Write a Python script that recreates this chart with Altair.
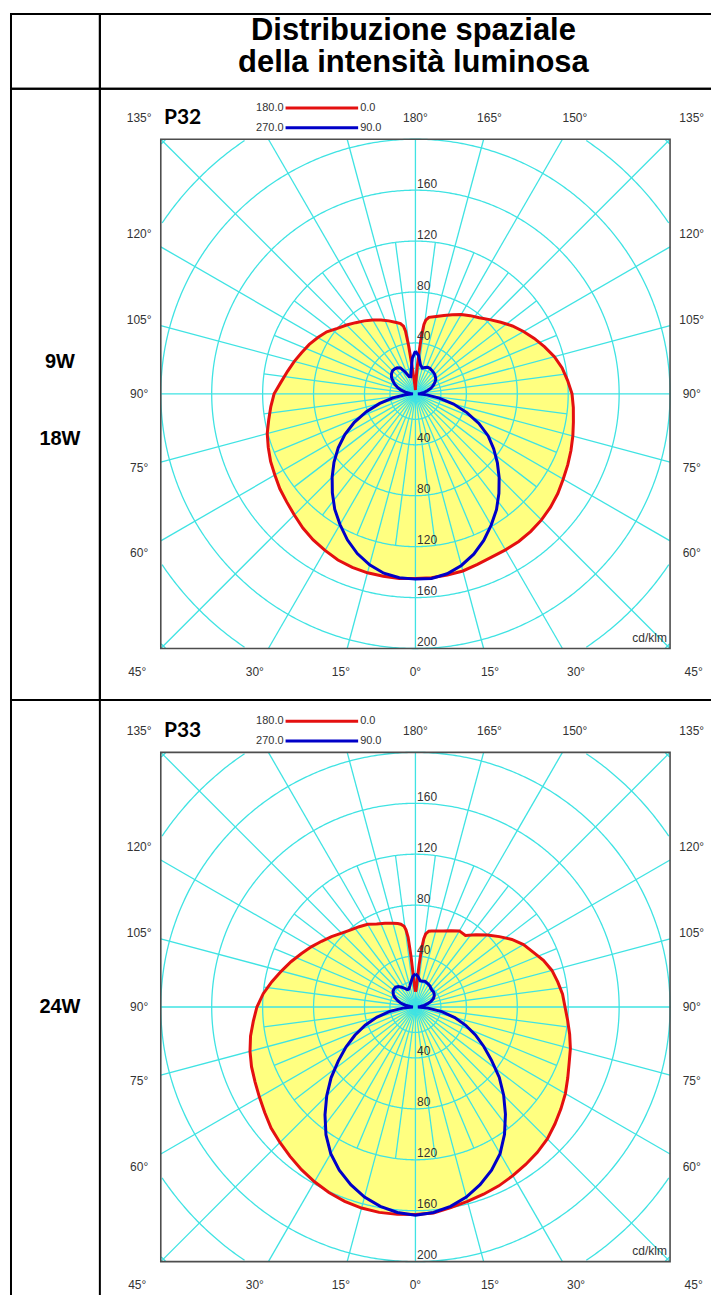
import altair as alt
import numpy as np
import pandas as pd

# ---------------- text content ----------------
TITLE_LINES = ["Distribuzione spaziale", "della intensità luminosa"]
ROW1_LABELS = ["9W", "18W"]
ROW2_LABELS = ["24W"]
PANEL_NAMES = ["P32", "P33"]
UNIT_LABEL = "cd/klm"
LEGEND_RED = ["180.0", "0.0"]
LEGEND_BLUE = ["270.0", "90.0"]

# ---------------- photometric data (cd/klm), gamma in degrees ----------------
P32_C0_ANG = [0, 5, 10, 15, 20, 25, 30, 35, 40, 45, 50, 55, 60, 65, 70, 75, 80, 85, 90, 95, 100, 105, 110,
              115, 120, 125, 130, 135, 140, 145, 150, 155, 160, 165, 170, 172, 173, 174, 175, 176, 177, 178, 179, 180]
P32_C0_VAL = [145, 145, 144.5, 144, 142.5, 141.5, 141.5, 141.5, 141, 140, 138.5, 136.5, 134, 132, 130, 128, 126,
              124.5, 123, 120, 117, 113, 108, 103, 98, 93, 87.5, 82.5, 78, 75, 72, 68.5, 65.5, 63, 61, 58.5, 55,
              46, 33, 22, 14, 9, 6, 3]
P32_C180_ANG = [0, 5, 10, 15, 20, 25, 30, 35, 40, 45, 50, 55, 60, 65, 70, 75, 80, 85, 90, 95, 100, 105, 110,
                115, 120, 125, 130, 135, 140, 145, 150, 155, 160, 165, 168, 170, 171, 172, 173, 174, 175, 176, 178, 180]
P32_C180_VAL = [145, 145.5, 145.5, 145.5, 145, 144, 142, 140, 137.5, 134.5, 132, 130, 127.5, 125.5, 123, 120.5,
                117, 114, 111, 106, 102, 98.5, 95, 92, 88.5, 85, 80, 76.5, 73, 70, 67, 64, 61, 58, 56.5, 54, 50,
                38, 22, 14, 10, 8, 5, 3]
P32_C90_ANG = [0, 5, 10, 15, 20, 25, 30, 35, 40, 45, 50, 55, 60, 65, 70, 75, 80, 85, 90, 95, 100, 105, 110,
               115, 120, 125, 130, 135, 140, 145, 150, 155, 160, 165, 170, 175, 180]
P32_C90_VAL = [145.5, 145.5, 143.5, 139.5, 134, 127, 119, 111, 102, 93, 84, 75, 66, 55, 43, 31, 19, 9, 2, 4, 7,
               10, 13, 15.5, 17.5, 19.5, 20.5, 21.5, 22, 22.5, 23, 23, 22, 21, 23, 30, 33.5]
P32_C270_ANG = P32_C90_ANG
P32_C270_VAL = [145.5, 145, 143, 139, 133.5, 126.5, 118.5, 110.5, 101.5, 92.5, 83.5, 74, 64, 53, 41, 29, 18, 8, 2,
                4, 8, 12, 15, 18, 20.5, 23, 24.5, 25.5, 25.5, 25, 23.5, 19, 14.5, 14, 19, 28, 33.5]

P33_C0_ANG = [0, 5, 10, 15, 20, 25, 30, 35, 40, 45, 50, 55, 60, 65, 70, 75, 80, 85, 90, 95, 100, 105, 110,
              115, 120, 125, 130, 135, 140, 145, 150, 155, 160, 165, 168, 170, 172, 173, 174, 175, 176, 177, 178, 180]
P33_C0_VAL = [163, 162.5, 160, 158, 156.5, 155, 153, 151, 149, 146.5, 143, 139.5, 136, 132, 128.5, 126, 123, 120,
              117.5, 116, 113.5, 111, 107, 102, 98, 92.5, 86, 80, 74, 68.5, 69, 66, 63.5, 61.7, 61, 60.5, 58, 54,
              46, 33, 22, 16, 13, 12]
P33_C180_ANG = P33_C0_ANG
P33_C180_VAL = [163, 163.5, 163.8, 163.5, 162.5, 160.8, 158.5, 156, 153.2, 150.5, 148, 144.5, 141.5, 139, 137,
                134.5, 131.5, 127.8, 124.5, 120, 114.5, 109, 104, 99, 94.5, 90, 86, 82, 79, 77, 75, 72, 70, 68,
                67, 66, 64, 61, 55, 40, 26, 19, 15, 12]
P33_C90_ANG = P32_C90_ANG
P33_C90_VAL = [163.5, 162, 159, 154.5, 148.5, 141.5, 133, 122, 110, 98, 86, 73, 62, 52, 42, 32, 21, 10, 2, 4, 7,
               10, 13, 15.5, 17, 18, 18.5, 18.5, 19, 20, 20.5, 21, 21.5, 21, 21, 24, 26]
P33_C270_ANG = P32_C90_ANG
P33_C270_VAL = [163.5, 162, 159, 154.5, 148.5, 141.5, 133, 122.5, 110.5, 98.5, 86.5, 74, 63, 52.5, 42, 31.5, 21,
                10, 2, 4, 8, 12, 15, 18, 20, 21.5, 22, 22, 21, 19, 17, 15, 15, 17, 20, 24, 26]

# ---------------- grid definition ----------------
FRAME = 200
RINGS = [20, 40, 80, 120, 160, 200, 240, 280]
RING_LABELS_TOP = [40, 80, 120, 160]
RING_LABELS_BOTTOM = [40, 80, 120, 160, 200]
SPOKES_MAJOR = list(range(0, 360, 15))
SPOKES_MINOR = [7.5 + 15 * k for k in range(24)]
MINOR_LEN = 120
SIDE_LABEL_ANGLES = [60, 75, 90, 105, 120]
BOTTOM_LABEL_ANGLES = [0, 15, 30, 45]
TOP_RIGHT_LABEL_ANGLES = [180, 165, 150, 135]
TOP_LEFT_LABEL_ANGLES = [135]

# ---------------- styles ----------------
K = 255 / 200.0  # px per cd
CYAN = "#3fe3e3"
YELLOW = "#ffff80"
RED = "#e41010"
BLUE = "#0000c8"
FRAME_COL = "#4d4d4d"
TXT = "#333333"
FONT = "Liberation Sans"

LEFT_W = 89
RIGHT_W = 612
HEAD_H = 75
ROW1_H = 612
ROW2_H = 596
NOSTROKE = alt.ViewBackground(stroke="transparent")


def curve_df(l_ang, l_val, r_ang, r_val):
    rows = []
    for a, v in sorted(zip(l_ang, l_val), reverse=True):
        t = np.radians(a)
        rows.append((-v * np.sin(t), -v * np.cos(t)))
    for a, v in sorted(zip(r_ang, r_val)):
        t = np.radians(a)
        rows.append((v * np.sin(t), -v * np.cos(t)))
    df = pd.DataFrame(rows, columns=["x", "y"])
    df["i"] = np.arange(len(df))
    return df


def rings_df():
    rows = []
    seg = 0
    for R in RINGS:
        t = np.radians(np.arange(0, 360.001, 0.5))
        xs = R * np.sin(t)
        ys = R * np.cos(t)
        prev = False
        for k, (x, y) in enumerate(zip(xs, ys)):
            inside = abs(x) <= FRAME + 0.01 and abs(y) <= FRAME + 0.01
            if inside:
                if not prev:
                    seg += 1
                rows.append((x, y, seg, k))
            prev = inside
    return pd.DataFrame(rows, columns=["x", "y", "seg", "i"])


def spokes_df():
    rows = []
    for a in SPOKES_MAJOR:
        t = np.radians(a)
        L = FRAME / max(abs(np.sin(t)), abs(np.cos(t)))
        rows.append((0.0, 0.0, L * np.sin(t), L * np.cos(t)))
    for a in SPOKES_MINOR:
        t = np.radians(a)
        rows.append((0.0, 0.0, MINOR_LEN * np.sin(t), MINOR_LEN * np.cos(t)))
    return pd.DataFrame(rows, columns=["x", "y", "x2", "y2"])


def angle_labels_df():
    D = 217.0
    rows = []
    for a in SIDE_LABEL_ANGLES:
        y = -D / np.tan(np.radians(a))
        rows.append((D, y, f"{a}°"))
        rows.append((-D, y, f"{a}°"))
    for a in BOTTOM_LABEL_ANGLES:
        x = 218.5 * np.tan(np.radians(a))
        rows.append((x, -218.5, f"{a}°"))
        if a:
            rows.append((-x, -218.5, f"{a}°"))
    for a in TOP_RIGHT_LABEL_ANGLES:
        x = D * np.tan(np.radians(180 - a))
        rows.append((x, D, f"{a}°"))
    for a in TOP_LEFT_LABEL_ANGLES:
        x = D * np.tan(np.radians(180 - a))
        rows.append((-x, D, f"{a}°"))
    return pd.DataFrame(rows, columns=["x", "y", "t"])


def ring_labels_df():
    rows = [(1.3, r + 5.1, str(r)) for r in RING_LABELS_TOP]
    rows += [(1.3, -r + 5.1, str(r)) for r in RING_LABELS_BOTTOM]
    return pd.DataFrame(rows, columns=["x", "y", "t"])


def vrule(x, h):
    return alt.Chart(pd.DataFrame({"b": [0]})).mark_rule(color="black", strokeWidth=2).encode(
        x=alt.value(x), y=alt.value(0), y2=alt.value(h))


def hrule(y, w):
    return alt.Chart(pd.DataFrame({"b": [0]})).mark_rule(color="black", strokeWidth=2).encode(
        y=alt.value(y), x=alt.value(0), x2=alt.value(w))


def polar_panel(name, red_l, red_r, blue_l, blue_r, w, h, cx, cy, top_bottom=True):
    xs = alt.Scale(domain=[-cx / K, (w - cx) / K], nice=False, zero=False)
    ys = alt.Scale(domain=[-(h - cy) / K, cy / K], nice=False, zero=False)

    def base(df):
        return alt.Chart(df).encode(
            x=alt.X("x:Q", scale=xs, axis=None),
            y=alt.Y("y:Q", scale=ys, axis=None),
        )

    red = curve_df(*red_l, *red_r)
    blue = curve_df(*blue_l, *blue_r)

    fill = base(red).mark_line(fill=YELLOW, strokeWidth=0).encode(order="i:Q")
    rings = base(rings_df()).mark_line(color=CYAN, strokeWidth=1.3).encode(
        detail="seg:N", order="i:Q")
    spokes = base(spokes_df()).mark_rule(color=CYAN, strokeWidth=1.3).encode(
        x2="x2:Q", y2="y2:Q")
    frame = base(pd.DataFrame({"x": [-FRAME], "y": [-FRAME], "x2": [FRAME], "y2": [FRAME]})).mark_rect(
        fillOpacity=0, stroke=FRAME_COL, strokeWidth=1.6).encode(x2="x2:Q", y2="y2:Q")
    red_line = base(red).mark_line(color=RED, strokeWidth=3).encode(order="i:Q")
    blue_line = base(blue).mark_line(color=BLUE, strokeWidth=3).encode(order="i:Q")

    ang_txt = base(angle_labels_df()).mark_text(font=FONT, fontSize=12, color=TXT,
                                                baseline="middle").encode(text="t:N")
    ring_txt = base(ring_labels_df()).mark_text(font=FONT, fontSize=12, color=TXT, align="left",
                                                baseline="middle").encode(text="t:N")
    unit_txt = base(pd.DataFrame({"x": [197.5], "y": [-191.8], "t": [UNIT_LABEL]})).mark_text(
        font=FONT, fontSize=12, color=TXT, align="right", baseline="middle").encode(text="t:N")
    name_txt = base(pd.DataFrame({"x": [-197.5], "y": [216.5], "t": [name]})).mark_text(
        font="Lato", fontWeight="bold", fontSize=21, color="black", align="left",
        baseline="middle").encode(text="t:N")

    leg = pd.DataFrame({
        "x": [-102.0, -102.0], "x2": [-45.0, -45.0], "y": [224.5, 209.0],
        "c": [RED, BLUE], "l": [LEGEND_RED[0], LEGEND_BLUE[0]], "r": [LEGEND_RED[1], LEGEND_BLUE[1]],
    })
    leg_lines = base(leg).mark_rule(strokeWidth=3).encode(x2="x2:Q", color=alt.Color("c:N", scale=None))
    leg_l = alt.Chart(leg).mark_text(font=FONT, fontSize=11, color=TXT, align="right", baseline="middle",
                                     dx=-2).encode(x=alt.X("x:Q", scale=xs, axis=None),
                                                   y=alt.Y("y:Q", scale=ys, axis=None), text="l:N")
    leg_r = alt.Chart(leg).mark_text(font=FONT, fontSize=11, color=TXT, align="left", baseline="middle",
                                     dx=2).encode(x=alt.X("x2:Q", scale=xs, axis=None),
                                                  y=alt.Y("y:Q", scale=ys, axis=None), text="r:N")

    layers = [fill, rings, spokes, frame, red_line, blue_line, ang_txt, ring_txt, unit_txt, name_txt,
              leg_lines, leg_l, leg_r, vrule(0, h)]
    if top_bottom:
        layers += [hrule(0, w), hrule(h, w)]
    return alt.layer(*layers).properties(width=w, height=h, view=NOSTROKE)


def label_cell(labels, ys, h, stroked=True):
    layers = []
    for lab, y in zip(labels, ys):
        layers.append(alt.Chart(pd.DataFrame({"t": [lab]})).mark_text(
            font=FONT, fontWeight="bold", fontSize=20, color="black", baseline="middle").encode(
            text="t:N", x=alt.value(49), y=alt.value(y)))
    if not stroked:
        layers.append(vrule(0, h))
    ch = alt.layer(*layers).properties(width=LEFT_W, height=h)
    if not stroked:
        ch = ch.properties(view=NOSTROKE)
    return ch


empty = alt.Chart(pd.DataFrame({"b": [0]})).mark_rule(strokeOpacity=0).encode(
    x=alt.value(10), y=alt.value(10), y2=alt.value(60)).properties(width=LEFT_W, height=HEAD_H)
title = alt.layer(*([
    alt.Chart(pd.DataFrame({"t": [line]})).mark_text(
        font=FONT, fontWeight="bold", fontSize=31, color="black", baseline="middle").encode(
        text="t:N", x=alt.value(314), y=alt.value(yy))
    for line, yy in zip(TITLE_LINES, [17.5, 49.5])
] + [hrule(0, RIGHT_W), hrule(HEAD_H, RIGHT_W), vrule(0, HEAD_H)])).properties(
    width=RIGHT_W, height=HEAD_H, view=NOSTROKE)

cells = [
    empty,
    title,
    label_cell(ROW1_LABELS, [274, 351], ROW1_H),
    polar_panel(PANEL_NAMES[0], (P32_C180_ANG, P32_C180_VAL), (P32_C0_ANG, P32_C0_VAL),
                (P32_C270_ANG, P32_C270_VAL), (P32_C90_ANG, P32_C90_VAL), RIGHT_W, ROW1_H, 316, 305.5),
    label_cell(ROW2_LABELS, [308], ROW2_H, stroked=False),
    polar_panel(PANEL_NAMES[1], (P33_C180_ANG, P33_C180_VAL), (P33_C0_ANG, P33_C0_VAL),
                (P33_C270_ANG, P33_C270_VAL), (P33_C90_ANG, P33_C90_VAL), RIGHT_W, ROW2_H, 316, 307.5,
                top_bottom=False),
]

chart = alt.concat(*cells, columns=2, spacing=0, bounds="flush").properties(
    padding={"left": 1, "top": 3, "right": 0, "bottom": 0}
).configure_view(stroke="black", strokeWidth=2).configure_concat(spacing=0)

chart.save("out.html", embed_options={"renderer": "svg", "actions": False})
